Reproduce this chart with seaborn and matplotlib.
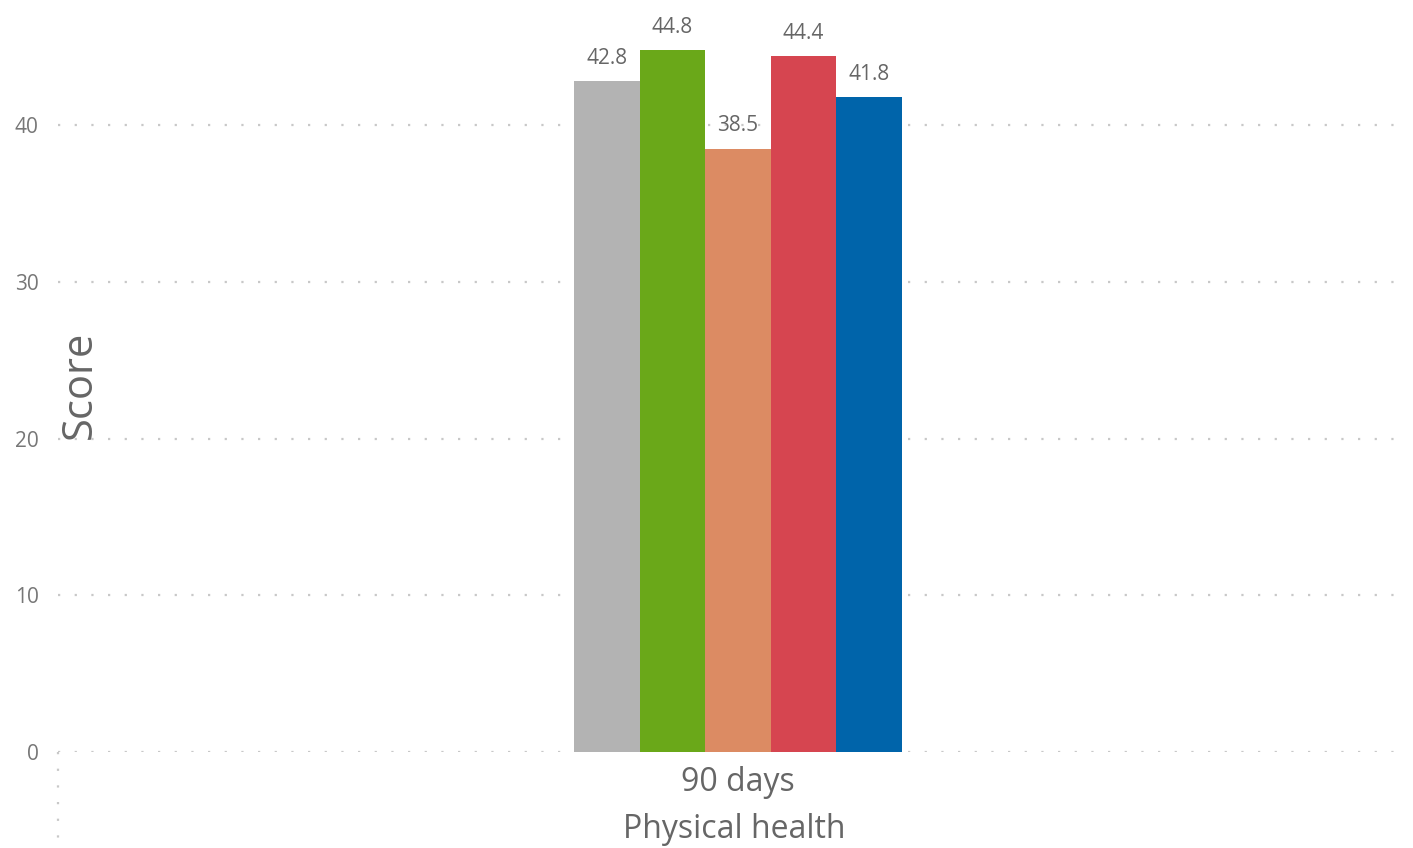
import matplotlib
matplotlib.use("Agg")
import matplotlib.pyplot as plt
import seaborn as sns
import pandas as pd
from matplotlib.lines import Line2D

# ---- data ----
period = ["90 days"]
groups = ["Group 1", "Group 2", "Group 3", "Group 4", "Group 5"]
scores = [42.8, 44.8, 38.5, 44.4, 41.8]
colors = ["#B3B3B3", "#6AA819", "#DC8B63", "#D64550", "#0064AA"]
yticks = [0, 10, 20, 30, 40]
category_title = "Physical health"
y_title = "Score"

df = pd.DataFrame({"period": period * len(groups), "group": groups, "score": scores})

sns.set_theme(style="white")
plt.rcParams["font.family"] = ["Open Sans", "DejaVu Sans"]

fig = plt.figure(figsize=(14.13, 8.48), dpi=100)
ax = fig.add_axes([58 / 1413, 96 / 848, 1352 / 1413, 752 / 848])

sns.barplot(data=df, x="period", y="score", hue="group", palette=colors,
            saturation=1, width=0.242, gap=0, linewidth=0, legend=False,
            ax=ax, zorder=3)

ax.set_ylim(0, 48)
ax.set_xlim(-0.503, 0.497)
ax.set_yticks(yticks)
ax.set_yticklabels([str(t) for t in yticks], fontsize=15, color="#777777")
ax.tick_params(axis="both", length=0)
ax.tick_params(axis="y", pad=14)
ax.tick_params(axis="x", pad=10, labelsize=23, labelcolor="#666666")
for s in ax.spines.values():
    s.set_visible(False)

# dotted gridlines
for t in yticks:
    ax.axhline(t, color="#c8c8c8", lw=1.6, linestyle=(0, (1, 6.5)), zorder=1, xmax=0.996)

# vertical dotted category separator below the axis
ax.add_line(Line2D([0, 0], [0, -0.13], transform=ax.transAxes, color="#c8c8c8",
                   lw=1.6, linestyle=(0, (1, 6.5)), clip_on=False))

# data labels
for cont in ax.containers:
    for bar in cont:
        h = bar.get_height()
        ax.annotate(f"{h:.1f}", (bar.get_x() + bar.get_width() / 2, h),
                    xytext=(0, 9), textcoords="offset points", ha="center",
                    va="bottom", fontsize=15, color="#666666")

ax.set_xlabel(category_title, fontsize=23, color="#666666", labelpad=10)
ax.set_ylabel("")
fig.text(80 / 1413, 1 - 385 / 848, y_title, rotation=90, ha="center", va="center",
         fontsize=30, color="#666666")

fig.savefig("out.png", dpi=100)
